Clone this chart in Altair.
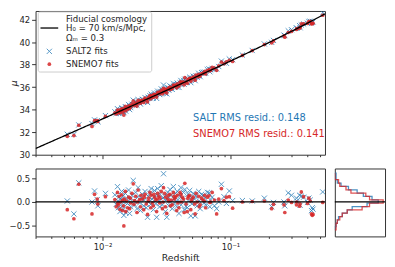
import altair as alt
import numpy as np
import pandas as pd

# ---------------- data ----------------
z = [0.00531, 0.00598, 0.00653, 0.00828, 0.00867, 0.0091, 0.0092, 0.01055, 0.01469,
     0.0125, 0.0128, 0.0131, 0.0132, 0.0133, 0.0135, 0.0137, 0.0139, 0.0141, 0.0143,
     0.0144, 0.0146, 0.0148, 0.0151, 0.0152, 0.0154, 0.0157, 0.016, 0.0163, 0.0165,
     0.0166, 0.017, 0.0174, 0.0176, 0.0178, 0.0182, 0.0186, 0.0188, 0.019, 0.0195,
     0.0198, 0.02, 0.0205, 0.021, 0.0212, 0.0215, 0.022, 0.0225, 0.0228, 0.023,
     0.0235, 0.0238, 0.024, 0.0245, 0.025, 0.0252, 0.0255, 0.026, 0.0265, 0.0268,
     0.027, 0.0276, 0.028, 0.0282, 0.0288, 0.0294, 0.0297, 0.03, 0.0306, 0.031,
     0.0312, 0.0318, 0.0324, 0.0327, 0.033, 0.0337, 0.034, 0.0344, 0.0351, 0.0358,
     0.0362, 0.0365, 0.0372, 0.038, 0.0384, 0.0388, 0.0396, 0.0404, 0.041, 0.0412,
     0.042, 0.043, 0.0435, 0.044, 0.045, 0.046, 0.0465, 0.047, 0.048, 0.049,
     0.0495, 0.05, 0.0512, 0.0525, 0.053, 0.0538, 0.055, 0.0565, 0.057, 0.058,
     0.0595, 0.061, 0.0625, 0.063, 0.064, 0.066, 0.068, 0.069, 0.07, 0.072,
     0.075, 0.078, 0.081, 0.085, 0.089, 0.093, 0.098,
     0.104, 0.124, 0.148, 0.184, 0.210, 0.217, 0.262, 0.266, 0.283, 0.300,
     0.328, 0.330, 0.347, 0.350, 0.358, 0.373, 0.400, 0.410, 0.420, 0.430,
     0.436, 0.442, 0.526]

salt_resid = [0.02, -0.25, 0.40, 0.00, 0.23, 0.05, -0.08, 0.18, -0.28,
              0.15, -0.05, 0.32, 0.02, -0.12, 0.10, -0.20, 0.05, 0.22, -0.08,
              0.12, -0.15, 0.00, 0.18, -0.22, 0.08, -0.03, 0.25, -0.24, 0.06,
              -0.10, 0.14, 0.45, 0.02, -0.06, 0.20, -0.14, 0.10, 0.30, -0.02,
              -0.18, 0.08, 0.16, -0.08, 0.04, 0.22, -0.12, -0.32, 0.12, 0.00,
              0.18, -0.05, 0.28, 0.06, -0.16, 0.10, 0.24, -0.04, -0.32, 0.14,
              0.28, 0.02, -0.10, 0.16, 0.34, -0.06, 0.08, 0.59, 0.12, -0.20,
              0.04, -0.32, 0.20, 0.10, -0.08, 0.26, 0.00, 0.14, -0.14, 0.32,
              0.06, -0.02, 0.18, -0.10, 0.22, 0.04, -0.24, 0.12, 0.30, -0.06,
              0.08, 0.20, -0.16, 0.26, -0.09, -0.12, 0.16, 0.02, 0.24, -0.29,
              0.10, -0.04, 0.18, 0.06, -0.29, 0.12, -0.08, 0.22, 0.02, -0.14,
              0.16, 0.14, -0.02, 0.08, -0.06, 0.20, 0.19, -0.10, 0.04, 0.10,
              -0.08, -0.14, 0.00, 0.37, 0.11, -0.03, 0.23,
              0.03, 0.03, 0.02, 0.08, -0.10, -0.01, 0.00, -0.08, 0.19, 0.14,
              0.08, 0.02, 0.14, -0.07, 0.12, 0.10, -0.01, 0.08, 0.04, -0.18,
              -0.12, -0.15, 0.21]

snemo_resid = [-0.16, -0.35, 0.37, -0.25, 0.16, 0.06, -0.04, 0.11, -0.50,
               0.05, -0.10, 0.20, -0.03, -0.06, 0.12, -0.15, 0.00, 0.15, -0.18,
               0.04, -0.08, 0.06, 0.22, -0.20, 0.02, -0.12, 0.10, -0.14, 0.08,
               -0.02, 0.18, 0.38, -0.05, 0.03, 0.12, -0.22, 0.00, 0.25, 0.05,
               -0.10, 0.14, 0.06, -0.16, 0.10, 0.16, -0.04, -0.26, 0.02, 0.08,
               0.20, -0.12, 0.14, -0.02, -0.08, 0.16, 0.10, 0.04, -0.20, 0.06,
               0.18, 0.12, -0.02, 0.08, 0.22, -0.14, 0.00, 0.30, 0.18, -0.10,
               0.10, -0.24, 0.06, 0.14, 0.02, 0.16, -0.08, 0.04, -0.06, 0.20,
               0.12, 0.06, 0.10, -0.18, 0.14, -0.02, -0.12, 0.20, 0.16, 0.00,
               0.10, 0.06, -0.22, 0.39, -0.04, -0.20, 0.08, 0.12, 0.14, -0.16,
               0.02, 0.06, 0.10, -0.04, -0.25, 0.18, 0.00, 0.12, -0.10, -0.06,
               0.08, 0.04, 0.02, 0.14, -0.12, 0.10, 0.13, -0.01, 0.00, 0.20,
               0.04, -0.25, 0.06, 0.28, 0.03, 0.10, 0.11,
               -0.13, 0.00, 0.01, 0.02, -0.14, -0.05, -0.06, -0.22, 0.04, -0.01,
               -0.06, 0.00, -0.09, -0.04, 0.21, 0.11, -0.03, 0.08, 0.02, -0.25,
               -0.28, -0.26, -0.01]

hist_edges = [-0.585, -0.515, -0.445, -0.375, -0.305, -0.235, -0.165, -0.095, -0.025,
              0.045, 0.115, 0.185, 0.255, 0.325, 0.395, 0.465, 0.535, 0.605]
hist_salt = [0, 1, 2, 3, 6, 10, 14, 26, 35, 30, 23, 18, 11, 5, 2, 1, 1]
hist_snemo = [1, 1, 2, 4, 6, 10, 22, 28, 39, 28, 25, 13, 9, 4, 3, 0, 0]

legend_lines = ["Fiducial cosmology", "H\u2080 = 70 km/s/Mpc,", "\u03a9\u2098 = 0.3"]
rms_texts = ["SALT RMS resid.: 0.148", "SNEMO7 RMS resid.: 0.141"]
tick_vals = [0.003, 0.004, 0.005, 0.006, 0.007, 0.008, 0.009,
             0.01, 0.02, 0.03, 0.04, 0.05, 0.06, 0.07, 0.08, 0.09,
             0.1, 0.2, 0.3, 0.4, 0.5]

H0 = 70.0
OM = 0.3
C_KMS = 299792.458


def mu_model(zs):
    out = []
    for zi in zs:
        g = np.linspace(0.0, zi, 400)
        inv_e = 1.0 / np.sqrt(OM * (1 + g) ** 3 + 1 - OM)
        dc = np.trapezoid(inv_e, g) * C_KMS / H0
        out.append(5 * np.log10((1 + zi) * dc * 1e5))
    return np.array(out)


# ---------------- styling ----------------
BLUE = "#1f77b4"
RED = "#d62728"
INK = "#262626"
FONT = "DejaVu Sans"
XSHAPE = "M-1,-1L1,1M-1,1L1,-1"
X_DOMAIN = [0.0030, 0.548]
MU_DOMAIN = [30, 42.76]
RES_DOMAIN = [-0.72, 0.7]
MAJOR = "datum.value == 0.01 || datum.value == 0.1"
W_MAIN = 294
W_HIST = 51
H_TOP = 146
H_BOT = 69
TICK_FS = 8.6

df = pd.DataFrame({"z": z, "salt": salt_resid, "snemo": snemo_resid})
df["mu0"] = mu_model(df["z"])
df["mu_salt"] = df["mu0"] + df["salt"]
df["mu_snemo"] = df["mu0"] + df["snemo"]

zg = np.geomspace(X_DOMAIN[0], X_DOMAIN[1], 200)
df_line = pd.DataFrame({"z": zg, "mu": mu_model(zg)})

xs = alt.Scale(type="log", domain=X_DOMAIN, nice=False)
ys_top = alt.Scale(domain=MU_DOMAIN, nice=False, zero=False)
ys_res = alt.Scale(domain=RES_DOMAIN, nice=False, zero=False)

tick_size = {"condition": {"test": MAJOR, "value": 4}, "value": 2}
xaxis_top = alt.Axis(values=tick_vals, labels=False, title=None, grid=False,
                     domain=False, tickSize=tick_size)
xaxis_bot = alt.Axis(values=tick_vals, grid=False, domain=False, tickSize=tick_size,
                     labelExpr="datum.value == 0.01 ? '10\u207b\u00b2' : (datum.value == 0.1 ? '10\u207b\u00b9' : '')",
                     labelOverlap=False, labelFlush=False, labelPadding=2,
                     labelFontSize=TICK_FS, title="Redshift", titleFontSize=9.5,
                     titlePadding=2)
yaxis_top = alt.Axis(values=[30, 32, 34, 36, 38, 40, 42], grid=False, domain=False,
                     tickSize=4, labelPadding=2, labelFontSize=TICK_FS, title="\u03bc",
                     titleFontSize=9.5, titleFontStyle="italic", titlePadding=0,
                     minExtent=0)
yaxis_bot = alt.Axis(values=[-0.5, 0.0, 0.5], format=".1f", grid=False, domain=False,
                     tickSize=4, labelPadding=2, labelFontSize=TICK_FS, title=None,
                     minExtent=0)

# ---------------- top panel ----------------
top_salt = alt.Chart(df).mark_point(shape=XSHAPE, filled=False, size=28, strokeWidth=1,
                                    color=BLUE, opacity=0.75, clip=True).encode(
    x=alt.X("z:Q", scale=xs, axis=xaxis_top),
    y=alt.Y("mu_salt:Q", scale=ys_top, axis=yaxis_top))
top_snemo = alt.Chart(df).mark_circle(size=14, color=RED, opacity=0.85, clip=True).encode(
    x=alt.X("z:Q", scale=xs, axis=xaxis_top),
    y=alt.Y("mu_snemo:Q", scale=ys_top, axis=yaxis_top))
top_line = alt.Chart(df_line).mark_line(color="black", strokeWidth=1.3, clip=True).encode(
    x=alt.X("z:Q", scale=xs, axis=xaxis_top),
    y=alt.Y("mu:Q", scale=ys_top, axis=yaxis_top))

one = pd.DataFrame({"k": [0]})
leg_box = alt.Chart(one).mark_rect(fill="white", fillOpacity=0.85, stroke="#cccccc",
                                   strokeWidth=1, cornerRadius=2).encode(
    x=alt.value(2.7), x2=alt.value(118), y=alt.value(1), y2=alt.value(62))
leg_line = alt.Chart(one).mark_rule(color="black", strokeWidth=1.3).encode(
    x=alt.value(5), x2=alt.value(23), y=alt.value(17.3))
leg_x = alt.Chart(one).mark_point(shape=XSHAPE, filled=False, size=28, strokeWidth=1,
                                  color=BLUE, opacity=0.75).encode(
    x=alt.value(14), y=alt.value(41))
leg_dot = alt.Chart(one).mark_circle(size=14, color=RED, opacity=0.85).encode(
    x=alt.value(14), y=alt.value(54))
leg_txt = [
    alt.Chart(pd.DataFrame({"t": [t]})).mark_text(align="left", baseline="middle",
                                                  font=FONT, fontSize=8.7, color=INK).encode(
        x=alt.value(31), y=alt.value(yy), text="t:N")
    for t, yy in zip(legend_lines + ["SALT2 fits", "SNEMO7 fits"], [8, 17.3, 27, 41, 54])
]
rms1 = alt.Chart(pd.DataFrame({"t": [rms_texts[0]]})).mark_text(
    align="left", baseline="middle", font=FONT, fontSize=10, color=BLUE).encode(
    x=alt.value(160), y=alt.value(108.7), text="t:N")
rms2 = alt.Chart(pd.DataFrame({"t": [rms_texts[1]]})).mark_text(
    align="left", baseline="middle", font=FONT, fontSize=10, color=RED).encode(
    x=alt.value(160), y=alt.value(124.7), text="t:N")

top = alt.layer(top_salt, top_snemo, top_line, leg_box, leg_line, leg_x, leg_dot,
                *leg_txt, rms1, rms2).properties(width=W_MAIN, height=H_TOP)

# ---------------- residual panel ----------------
bot_salt = alt.Chart(df).mark_point(shape=XSHAPE, filled=False, size=28, strokeWidth=1,
                                    color=BLUE, opacity=0.75, clip=True).encode(
    x=alt.X("z:Q", scale=xs, axis=xaxis_bot),
    y=alt.Y("salt:Q", scale=ys_res, axis=yaxis_bot))
bot_snemo = alt.Chart(df).mark_circle(size=14, color=RED, opacity=0.85, clip=True).encode(
    x=alt.X("z:Q", scale=xs, axis=xaxis_bot),
    y=alt.Y("snemo:Q", scale=ys_res, axis=yaxis_bot))
zero_df = pd.DataFrame({"r": [0.0]})
bot_zero = alt.Chart(zero_df).mark_rule(color="black", strokeWidth=1.3).encode(
    y=alt.Y("r:Q", scale=ys_res, axis=yaxis_bot))
bottom = alt.layer(bot_salt, bot_snemo, bot_zero).properties(width=W_MAIN, height=H_BOT)

# ---------------- histogram panel ----------------
rows = []
for name, counts in [("SALT2", hist_salt), ("SNEMO7", hist_snemo)]:
    pts = [(0, hist_edges[0])]
    for i, c in enumerate(counts):
        pts.append((c, hist_edges[i]))
        pts.append((c, hist_edges[i + 1]))
    pts.append((0, hist_edges[-1]))
    for j, (c, e) in enumerate(pts):
        rows.append({"series": name, "count": c, "edge": e, "i": j})
df_hist = pd.DataFrame(rows)

hist_lines = alt.Chart(df_hist).mark_line(strokeWidth=1.3, opacity=0.8, clip=True).encode(
    x=alt.X("count:Q", scale=alt.Scale(domain=[0, 40.5], nice=False), axis=None),
    y=alt.Y("edge:Q", scale=ys_res, axis=None),
    color=alt.Color("series:N", scale=alt.Scale(domain=["SALT2", "SNEMO7"], range=[BLUE, RED]),
                    legend=None),
    order=alt.Order("i:Q"))
hist_zero = alt.Chart(zero_df).mark_rule(color="black", strokeWidth=1.3).encode(
    y=alt.Y("r:Q", scale=ys_res, axis=None))
hist = alt.layer(hist_lines, hist_zero).properties(width=W_HIST, height=H_BOT)

placeholder = alt.Chart(one).mark_point(opacity=0).encode(
    x=alt.X("k:Q", axis=None), y=alt.Y("k:Q", axis=None)).properties(
    width=W_HIST, height=H_TOP, view=alt.ViewBackground(strokeOpacity=0))

chart = alt.concat(top, placeholder, bottom, hist, columns=2,
                   spacing={"row": 14, "column": 10}, bounds="flush").properties(
    padding={"left": 0, "top": 0, "right": 0, "bottom": 0},
    background="white"
).configure_view(stroke="#333333", strokeWidth=1).configure_axis(
    labelFont=FONT, titleFont=FONT, labelColor=INK, titleColor=INK,
    tickColor="#333333", titleFontWeight="normal")

chart.save("out.html", embed_options={"renderer": "svg", "actions": False})
